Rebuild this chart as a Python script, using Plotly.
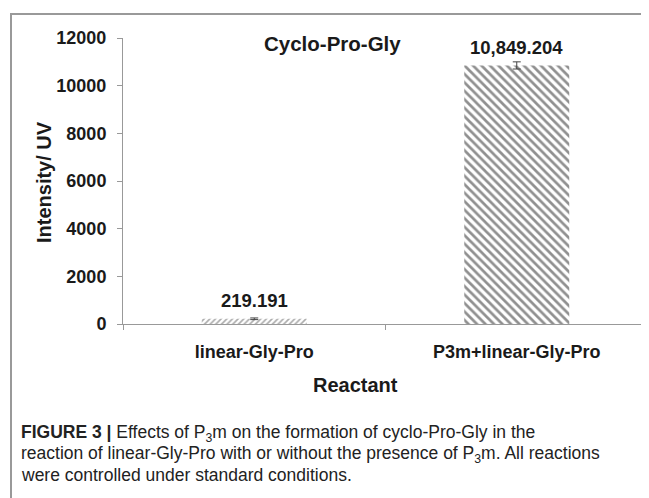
import plotly.graph_objects as go

categories = ["linear-Gly-Pro", "P3m+linear-Gly-Pro"]
values = [219.191, 10849.204]
errors = [35, 150]
value_labels = ["219.191", "10,849.204"]
patterns = ["/", "\\"]
y_ticks = [0, 2000, 4000, 6000, 8000, 10000, 12000]

W, H = 649, 498
L, R, T, B = 115, 9, 30, 182
pw, ph = W - L - R, H - T - B
Y0 = H - B  # pixel row of the x axis

def px(x):
    return (x - L) / pw

def py(y):
    return (Y0 - y) / ph

FONT = "Liberation Sans, Arial, sans-serif"
bold = dict(family=FONT, color="#1a1a1a", weight="bold")

fig = go.Figure()
fig.add_trace(go.Bar(
    x=categories, y=values,
    width=0.4,
    marker=dict(
        color="white",
        line=dict(width=0),
        pattern=dict(shape=patterns, fgcolor=["#555", "#222"], bgcolor="white",
                     size=[4, 6], solidity=[0.4, 0.45]),
    ),
    error_y=dict(type="data", array=errors, color="#444", thickness=1, width=4),
    showlegend=False,
))

for c, v, t in zip(categories, values, value_labels):
    fig.add_annotation(x=c, y=v, text=t, showarrow=False, xanchor="center", yanchor="middle",
                       yshift=18, font=dict(size=18.5, **bold))

mid = (L + W - R) / 2
fig.add_annotation(xref="paper", yref="paper", x=px(324), y=py(36), text="Cyclo-Pro-Gly",
                   xanchor="center", yanchor="middle", showarrow=False, font=dict(size=20.5, **bold))
fig.add_annotation(xref="paper", yref="paper", x=px(mid - 30), y=py(Y0 + 61), text="Reactant",
                   xanchor="center", yanchor="middle", showarrow=False, font=dict(size=20, **bold))
fig.add_annotation(xref="paper", yref="paper", x=px(36), y=py(174), text="Intensity/ UV",
                   xanchor="center", yanchor="middle", textangle=-90, showarrow=False,
                   font=dict(size=20, **bold))

cap_font = dict(family=FONT, size=17.5, color="#222")
caption = [
    "<b>FIGURE 3 |</b> Effects of P<sub>3</sub>m on the formation of cyclo-Pro-Gly in the",
    "reaction of linear-Gly-Pro with or without the presence of P<sub>3</sub>m. All reactions",
    "were controlled under standard conditions.",
]
cap_dy = [109, 130, 151]
for line, dy in zip(caption, cap_dy):
    fig.add_annotation(xref="paper", yref="paper", x=px(12), y=py(Y0 + dy), text=line,
                       xanchor="left", yanchor="middle", showarrow=False, font=cap_font,
                       borderpad=0)

fig.add_shape(type="rect", xref="paper", yref="paper", x0=px(3), x1=px(700), y0=py(560), y1=py(6),
              line=dict(color="#999", width=2), layer="below")

fig.update_layout(
    width=W, height=H,
    margin=dict(l=L, r=R, t=T, b=B),
    paper_bgcolor="white", plot_bgcolor="white",
    xaxis=dict(showline=True, linecolor="#999", linewidth=1, ticks="outside", tickson="boundaries",
               ticklen=5, tickcolor="#999", tickfont=dict(size=18, **bold), showgrid=False,
               ticklabelstandoff=11),
    yaxis=dict(range=[0, 12000], tickvals=y_ticks, tickformat="d", showline=True, linecolor="#999",
               linewidth=1, ticks="outside", ticklen=5, tickcolor="#999", showgrid=False,
               zeroline=False, tickfont=dict(size=18, **bold), ticklabelstandoff=7),
)

fig.write_html("out.html")
